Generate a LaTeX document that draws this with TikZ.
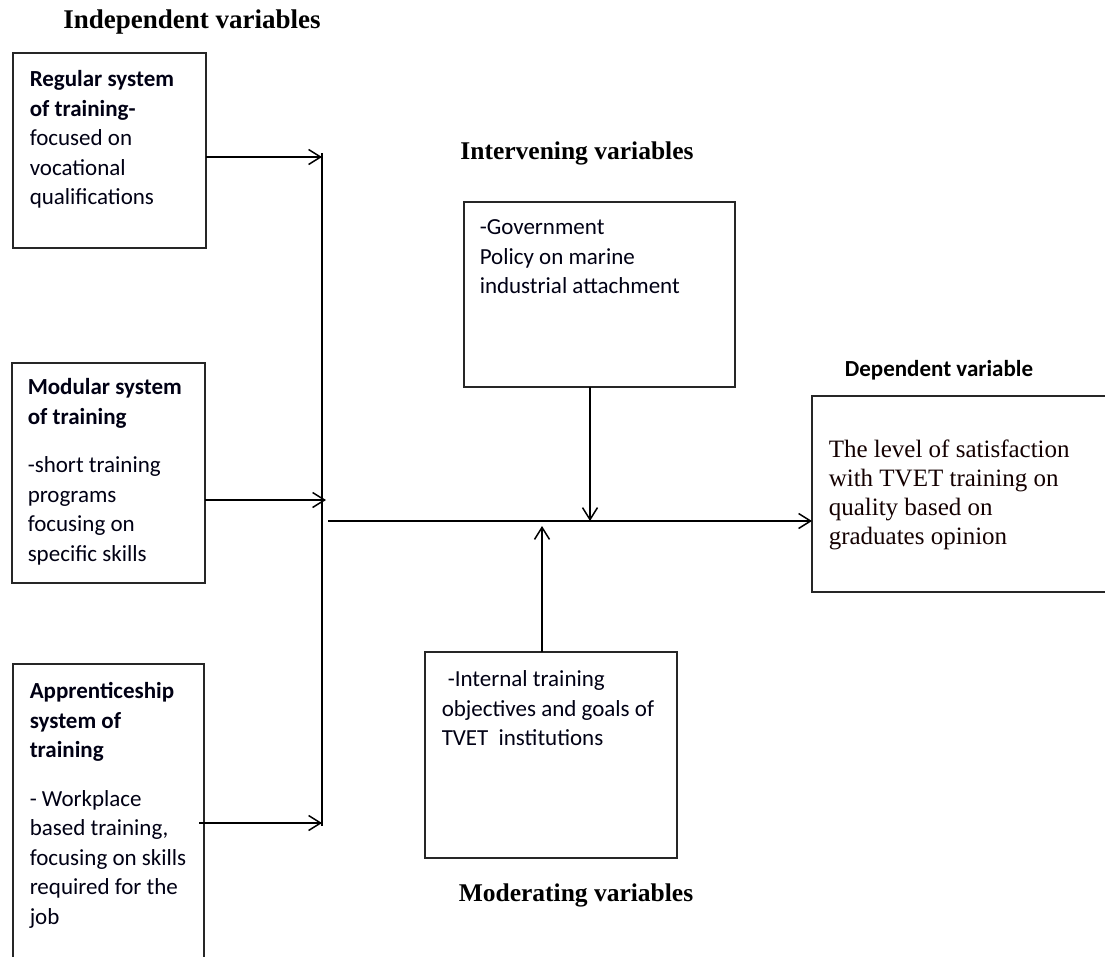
\documentclass[tikz,border=0pt]{standalone}
\usepackage{fontspec}
\setmainfont{Liberation Serif}
\newfontfamily\calfont{Carlito}
\usetikzlibrary{arrows.meta}
\begin{document}
\begin{tikzpicture}[x=1pt,y=-1pt,line width=1.5pt,
  box/.style={draw=black!85,inner sep=0pt,outer sep=0pt},
  boxtext/.style={anchor=north west,inner sep=0pt,align=left,
    font=\calfont\fontsize{23}{29.5}\selectfont,text=black!92!blue},
  deptext/.style={anchor=north west,inner sep=0pt,align=left,
    font=\fontsize{25}{29}\selectfont,text=black!92!red},
  title/.style={inner sep=0pt,font=\bfseries\fontsize{25.5}{30}\selectfont},
  arr/.style={-{Straight Barb[length=12pt,width=15pt,line width=1.5pt]}}]
\clip (0,0) rectangle (1105,956);
\fill[white] (0,0) rectangle (1105,956);

% titles
\node[title,font=\bfseries\fontsize{27}{30}\selectfont] (tind) at (192,22) {Independent variables};
\node[title] (tint) at (577,153) {Intervening variables};
\node[title] (tmod) at (576,895) {Moderating variables};
\node[inner sep=0pt,font=\calfont\bfseries\fontsize{23}{28}\selectfont] (tdep) at (939,370) {Dependent variable};

% boxes
\node[box,minimum width=193,minimum height=195] (b1) at (109.5,150.5) {};
\node[box,minimum width=193,minimum height=220] (b2) at (108.5,473) {};
\node[box,minimum width=191,minimum height=336] (b3) at (108.5,832) {};
\node[box,minimum width=271,minimum height=185] (bi) at (599.5,294.5) {};
\node[box,minimum width=308,minimum height=196] (bd) at (966,494) {};
\node[box,minimum width=252,minimum height=206] (bm) at (551,755) {};

% texts
\node[boxtext] (x1) at (29,70) {\textbf{Regular system}\\\textbf{of training-}\\focused on\\vocational\\qualifications};
\node[boxtext] (x2) at (27,378) {\textbf{Modular system}\\\textbf{of training}\\[19pt]-short training\\programs\\focusing on\\specific skills};
\node[boxtext] (x3) at (29,682) {\textbf{Apprenticeship}\\\textbf{system of}\\\textbf{training}\\[19pt]- Workplace\\based training,\\focusing on skills\\required for the\\job};
\node[boxtext] (xi) at (479,219) {-Government\\Policy on marine\\industrial attachment};
\node[boxtext] (xm) at (441,670) {\hspace{6pt}-Internal training\\objectives and goals of\\TVET\hspace{5pt} institutions};
\node[deptext] (xd) at (828,439) {The level of satisfaction\\with TVET training on\\quality based on\\graduates opinion};

% bus and junctions
\coordinate (bustop) at (322,153);
\coordinate (busbot) at (322,826);
\coordinate (j1) at (322,157);
\coordinate (j2) at (326,500);
\coordinate (j3) at (322,823);
\coordinate (hstart) at (328,521);
\coordinate (hdown) at (590,521);
\coordinate (hup) at (542,526);

\draw (bustop) -- (busbot);
\draw[arr] (b1.east |- j1) -- (j1);
\draw[arr] (b2.east |- j2) -- (j2);
\draw[arr] ([xshift=-5pt]b3.east |- j3) -- (j3);
\draw[arr] (hstart) -- (bd.west |- hstart);
\draw[arr] (bi.south -| hdown) -- (hdown);
\draw[arr] (bm.north -| hup) -- (hup);
\end{tikzpicture}
\end{document}
